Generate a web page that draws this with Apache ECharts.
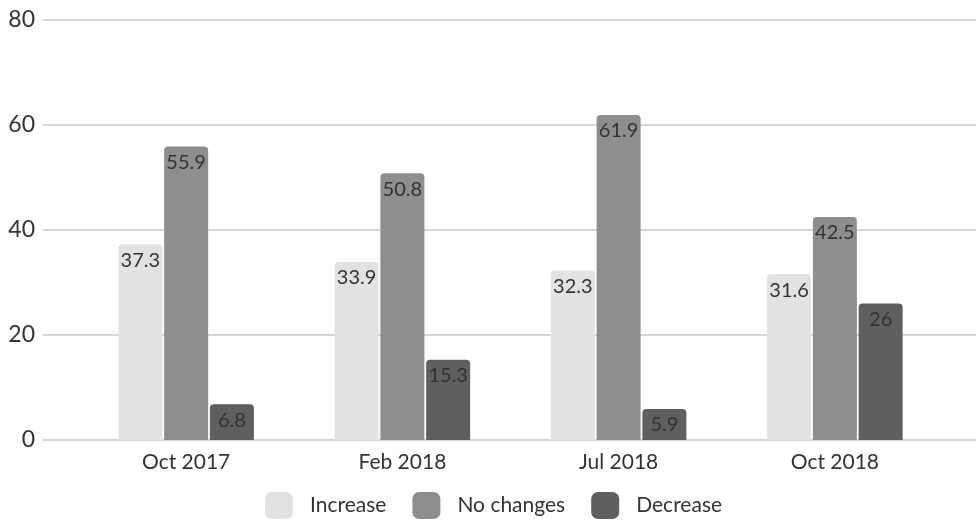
<!DOCTYPE html>
<html>
<head>
<meta charset="utf-8">
<script src="https://cdn.jsdelivr.net/npm/echarts@6/dist/echarts.min.js"></script>
<style>
  html, body { margin: 0; padding: 0; background: #fff; }
  #chart { width: 976px; height: 520px; }
</style>
</head>
<body>
<div id="chart"></div>
<script>
const categories = ['Oct 2017', 'Feb 2018', 'Jul 2018', 'Oct 2018'];
const seriesNames = ['Increase', 'No changes', 'Decrease'];
const increase = [37.3, 33.9, 32.3, 31.6];
const noChanges = [55.9, 50.8, 61.9, 42.5];
const decrease = [6.8, 15.3, 5.9, 26];
const yMin = 0, yMax = 80, yStep = 20;

const colors = ['#e2e2e2', '#8e8e8e', '#5f5f5f'];
const FONT = 'Lato';
const TEXT = '#333333';

function barSeries(name, data, color) {
  return {
    name: name,
    type: 'bar',
    xAxisIndex: 1,
    yAxisIndex: 1,
    data: data,
    barWidth: 44,
    barGap: '4%',
    itemStyle: { color: color, borderRadius: [4, 4, 0, 0] },
    label: {
      show: true,
      position: 'insideTop',
      distance: 6,
      color: TEXT,
      fontFamily: FONT,
      fontSize: 20
    }
  };
}

const chart = echarts.init(document.getElementById('chart'), null, { renderer: 'canvas' });
chart.setOption({
  animation: false,
  backgroundColor: '#ffffff',
  legend: {
    data: seriesNames,
    left: 265,
    top: 492,
    padding: 0,
    itemWidth: 28,
    itemHeight: 27,
    itemGap: 26,
    textStyle: { color: TEXT, fontFamily: FONT, fontSize: 21, padding: [0, 0, 0, 12] },
    icon: 'roundRect'
  },
  grid: [
    // full-width grid carrying the value scale and gridlines
    { left: 43, right: 0, top: 20, bottom: 80, containLabel: false },
    // grid holding the grouped bars
    { left: 78, right: 33, top: 20, bottom: 80, containLabel: false }
  ],
  xAxis: [
    { gridIndex: 0, type: 'value', min: 0, max: 1, show: false },
    {
      gridIndex: 1,
      type: 'category',
      data: categories,
      axisLine: { show: false },
      axisTick: { show: false },
      axisLabel: { color: TEXT, fontFamily: FONT, fontSize: 21, margin: 12 }
    }
  ],
  yAxis: [
    {
      gridIndex: 0,
      type: 'value',
      min: yMin,
      max: yMax,
      interval: yStep,
      axisLine: { show: false },
      axisTick: { show: false },
      axisLabel: { color: TEXT, fontFamily: FONT, fontSize: 23, margin: 8 },
      splitLine: { lineStyle: { color: '#d6d6d6', width: 2 } }
    },
    {
      gridIndex: 1,
      type: 'value',
      min: yMin,
      max: yMax,
      interval: yStep,
      show: false,
      splitLine: { show: false }
    }
  ],
  series: [
    barSeries(seriesNames[0], increase, colors[0]),
    barSeries(seriesNames[1], noChanges, colors[1]),
    barSeries(seriesNames[2], decrease, colors[2])
  ]
});
</script>
</body>
</html>
